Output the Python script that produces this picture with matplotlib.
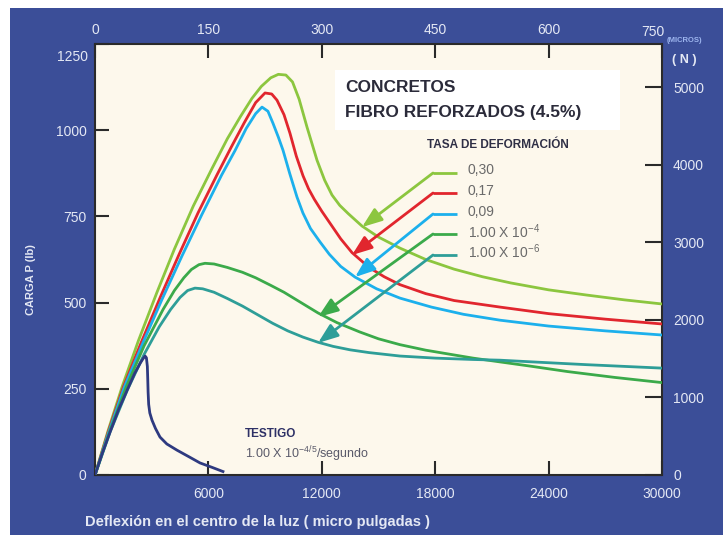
import matplotlib
matplotlib.use("Agg")
import matplotlib.pyplot as plt
from matplotlib.patches import Rectangle

# ---------------- data ----------------
x_030 = [0, 700, 1430, 2300, 3280, 4200, 5200, 6200, 7000, 7700, 8300, 8800, 9300, 9700, 10100, 10450,
         10800, 11217, 11746, 12150, 12540, 12950, 13400, 14127, 15000, 16137, 17500, 19000, 20500, 22000,
         24000, 26000, 28000, 30000]
y_030 = [0, 130, 255, 390, 530, 655, 780, 890, 975, 1040, 1092, 1127, 1152, 1162, 1160, 1140,
         1090, 1009, 913, 855, 812, 782, 758, 722, 690, 658, 625, 597, 575, 557,
         537, 522, 508, 496]

x_017 = [0, 700, 1500, 2450, 3450, 4450, 5450, 6450, 7200, 7900, 8500, 8995, 9350, 9630, 10000, 10317,
         10650, 11005, 11300, 11600, 12000, 12500, 13000, 13598, 14500, 15300, 16137, 17500, 19000, 21428,
         24000, 27000, 30000]
y_017 = [0, 125, 255, 385, 515, 640, 760, 870, 950, 1022, 1080, 1108, 1105, 1087, 1045, 991,
         925, 868, 830, 800, 765, 725, 685, 645, 602, 575, 552, 526, 506, 487,
         468, 452, 438]

x_009 = [0, 700, 1550, 2550, 3550, 4600, 5650, 6700, 7400, 8000, 8500, 8836, 9150, 9418, 9700, 9947,
         10300, 10688, 11000, 11400, 11905, 12400, 13000, 13757, 14900, 16137, 17800, 19500, 21428, 24000,
         27000, 30000]
y_009 = [0, 120, 255, 385, 510, 635, 755, 870, 940, 1005, 1048, 1067, 1055, 1020, 980, 942,
         875, 806, 760, 715, 676, 640, 605, 574, 540, 513, 487, 466, 449, 432,
         418, 406]

x_1e4 = [0, 800, 1650, 2600, 3600, 4200, 4700, 5100, 5500, 5820, 6300, 7000, 7800, 8500, 9300, 10000,
         10900, 11800, 12800, 14000, 15000, 16137, 17500, 18800, 20000, 21428, 23000, 25000, 27500, 30000]
y_1e4 = [0, 130, 255, 375, 480, 535, 572, 596, 610, 614, 612, 602, 588, 572, 550, 530,
         500, 470, 442, 415, 395, 378, 362, 350, 339, 328, 316, 300, 283, 268]

x_1e6 = [0, 800, 1700, 2600, 3400, 4000, 4500, 4900, 5290, 5700, 6300, 7000, 7800, 8600, 9400, 10200,
         11000, 11800, 12600, 13500, 14500, 16137, 18000, 20000, 21428, 23500, 26000, 28000, 30000]
y_1e6 = [0, 125, 245, 350, 430, 480, 515, 535, 542, 540, 530, 512, 490, 465, 440, 418,
         400, 385, 373, 363, 355, 345, 339, 335, 333, 327, 320, 315, 310]

x_testigo = [0, 400, 800, 1250, 1700, 2100, 2400, 2550, 2650, 2720, 2770, 2790, 2810, 2840, 2900, 3016,
             3200, 3439, 3800, 4339, 5000, 5555, 6200, 6772]
y_testigo = [0, 65, 125, 190, 246, 295, 325, 338, 345, 340, 315, 280, 240, 205, 180, 159,
             135, 110, 90, 72, 52, 35, 22, 10]

series_labels = ["0,30", "0,17", "0,09",
                 r"1.00 X 10$^{\mathregular{-4}}$", r"1.00 X 10$^{\mathregular{-6}}$"]
series_colors = ["#8CC63F", "#E1262E", "#1CB0EC", "#3BAA4A", "#2E9E98"]
testigo_color = "#2E3A80"

# arrow tips (data coords, on each curve)
arrow_tip_x = [14127, 13598, 13757, 11799, 11799]
arrow_tip_y = [719, 638, 574, 458, 383]

xticks_bottom = [6000, 12000, 18000, 24000, 30000]
yticks_left = [0, 250, 500, 750, 1000, 1250]
xticks_top = [0, 150, 300, 450, 600, 750]
yticks_right = [0, 1000, 2000, 3000, 4000, 5000]

# ---------------- figure ----------------
W, H = 723, 535
BG = "#3B4E98"
FACE = "#FDF8EC"
LABEL_C = "#E4E8F4"
SPINE_C = "#2A2A2A"

fig = plt.figure(figsize=(W / 100, H / 100), dpi=100)
fig.patch.set_facecolor("white")
fig.patches.append(Rectangle((10 / W, 0), 1, (H - 8) / H, transform=fig.transFigure,
                             facecolor=BG, edgecolor="none", zorder=-10))


def fx(px):
    return px / W


def fy(py):
    return 1 - py / H


ax = fig.add_axes([95 / W, 60 / H, 567 / W, 431 / H])
ax.set_facecolor(FACE)
ax.set_xlim(0, 30000)
ax.set_ylim(0, 1250)

lw = 2.0
curves = [(x_030, y_030), (x_017, y_017), (x_009, y_009), (x_1e4, y_1e4), (x_1e6, y_1e6)]
for (xs, ys), c in zip(curves, series_colors):
    ax.plot(xs, ys, color=c, lw=lw, solid_joinstyle="round", solid_capstyle="round", zorder=3)
ax.plot(x_testigo, y_testigo, color=testigo_color, lw=lw, solid_joinstyle="round", zorder=4)

for s in ax.spines.values():
    s.set_color(SPINE_C)
    s.set_linewidth(1.5)

ax.set_xticks(xticks_bottom)
ax.set_xticklabels([str(v) for v in xticks_bottom])
ax.set_yticks(yticks_left)
ax.set_yticklabels([str(v) for v in yticks_left[:-1]] + [""])
ax.tick_params(axis="both", direction="in", length=10, width=1.5, color=SPINE_C,
               labelcolor=LABEL_C, labelsize=10)
ax.tick_params(axis="x", pad=9)
ax.tick_params(axis="y", pad=6)

# top axis (microns)
axt = ax.twiny()
axt.set_xlim(0, 750)
axt.set_xticks(xticks_top)
axt.set_xticklabels([str(v) for v in xticks_top[:-1]] + [""])
axt.tick_params(axis="x", direction="in", length=10, width=1.5, color=SPINE_C,
                labelcolor=LABEL_C, labelsize=10, pad=5)
for s in axt.spines.values():
    s.set_visible(False)

# right axis (N)
axr = ax.twinx()
axr.set_ylim(0, 5555)
axr.set_yticks(yticks_right)
axr.set_yticklabels([str(v) for v in yticks_right])
axr.tick_params(axis="y", direction="in", length=12, width=1.5, color=SPINE_C,
                labelcolor=LABEL_C, labelsize=10, pad=8)
for s in axr.spines.values():
    s.set_visible(False)

for a in (ax, axt, axr):
    for t in a.get_xticklabels() + a.get_yticklabels():
        t.set_fontfamily(["Liberation Sans", "DejaVu Sans"])

# manual tick labels (placed like the reference)
fig.text(fx(88), fy(57), "1250", color=LABEL_C, fontsize=10, ha="right", va="center",
         family=["Liberation Sans", "DejaVu Sans"])
fig.text(fx(664), fy(32), "750", color=LABEL_C, fontsize=10, ha="right", va="center",
         family=["Liberation Sans", "DejaVu Sans"])
fig.text(fx(667), fy(41), "(MICROS)", color="#9DB5EE", fontsize=5.5, fontweight="bold",
         ha="left", va="center", family=["Liberation Sans Narrow", "Liberation Sans", "DejaVu Sans"])
fig.text(fx(672), fy(60), "( N )", color=LABEL_C, fontsize=9, fontweight="bold",
         ha="left", va="center", family=["Liberation Sans", "DejaVu Sans"])

# axis titles
fig.text(fx(85), fy(522), "Deflexión en el centro de la luz ( micro pulgadas )", color=LABEL_C,
         fontsize=10.5, fontweight="bold", ha="left", va="center",
         family=["Liberation Sans Narrow", "Liberation Sans", "DejaVu Sans"])
fig.text(fx(31), fy(280), "CARGA P (lb)", color=LABEL_C, fontsize=8, fontweight="bold",
         rotation=90, ha="center", va="center",
         family=["Liberation Sans Narrow", "Liberation Sans", "DejaVu Sans"])

# title box
fig.patches.append(Rectangle((fx(335), fy(130)), (620 - 335) / W, 60 / H, transform=fig.transFigure,
                             facecolor="white", edgecolor="none", zorder=5))
fig.text(fx(345), fy(88), "CONCRETOS", color="#2B2B3A", fontsize=12.5, fontweight="bold",
         ha="left", va="center", zorder=6, family=["Liberation Sans", "DejaVu Sans"])
fig.text(fx(345), fy(112), "FIBRO REFORZADOS (4.5%)", color="#2B2B3A", fontsize=12.5,
         fontweight="bold", ha="left", va="center", zorder=6, family=["Liberation Sans", "DejaVu Sans"])
fig.text(fx(427), fy(145), "TASA DE DEFORMACIÓN", color="#2F2F45", fontsize=8.5, fontweight="bold",
         ha="left", va="center", family=["Liberation Sans", "DejaVu Sans"])

# legend leaders with arrows
def px2data(px, py):
    return (px - 95) / 567 * 30000, (475 - py) / 431 * 1250

leader_py = [173, 193, 214, 234, 255]
label_py = [170, 191, 212, 232, 252]
for i, c in enumerate(series_colors):
    kx, ky = px2data(433, leader_py[i])
    ex, _ = px2data(457, leader_py[i])
    ax.plot([kx, ex], [ky, ky], color=c, lw=2, solid_capstyle="butt", zorder=5)
    ax.annotate("", xy=(arrow_tip_x[i], arrow_tip_y[i]), xytext=(kx, ky),
                arrowprops=dict(arrowstyle="-|>,head_length=1.2,head_width=0.45", color=c, lw=2,
                                shrinkA=0, shrinkB=0), zorder=5)
    fig.text(fx(468), fy(label_py[i]), series_labels[i], color="#6A6A6A", fontsize=10,
             ha="left", va="center", family=["Liberation Sans", "DejaVu Sans"])

# testigo label
fig.text(fx(245), fy(434), "TESTIGO", color="#2E3166", fontsize=8.5, fontweight="bold",
         ha="left", va="center", family=["Liberation Sans", "DejaVu Sans"])
fig.text(fx(245), fy(454), r"1.00 X 10$^{\mathregular{-4/5}}$/segundo", color="#5A5A6A", fontsize=9,
         ha="left", va="center", family=["Liberation Sans", "DejaVu Sans"])

fig.savefig("out.png", dpi=100, facecolor=fig.get_facecolor())
